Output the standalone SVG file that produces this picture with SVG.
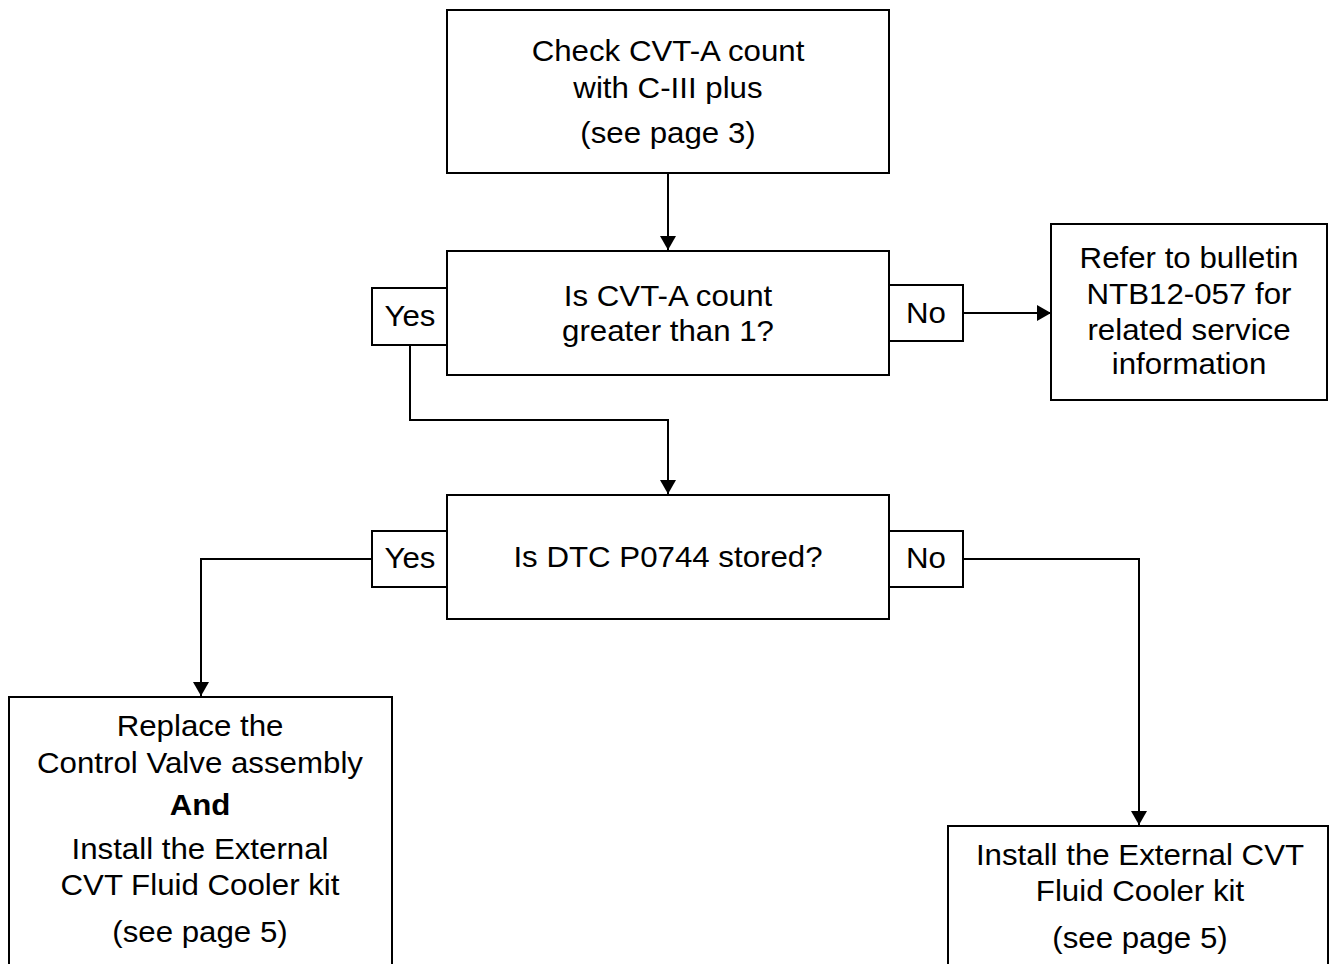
<svg xmlns="http://www.w3.org/2000/svg" width="1331" height="964" viewBox="0 0 1331 964">
<style>
.box{fill:#fff;stroke:#000;stroke-width:2}
.t{font-family:"Liberation Sans",Arial,sans-serif;font-size:29.5px;fill:#000;text-anchor:middle}
.b{font-weight:bold}
.c{fill:none;stroke:#000;stroke-width:2}
</style>
<defs>
<marker id="ah" markerWidth="14" markerHeight="16" refX="14" refY="8" orient="auto" markerUnits="userSpaceOnUse">
<path d="M0,0 L14,8 L0,16 Z" fill="#000"/>
</marker>
</defs>
<rect width="1331" height="964" fill="#fff"/>
<g id="connectors">
<line class="c" x1="668" y1="173" x2="668" y2="250" marker-end="url(#ah)"/>
<line class="c" x1="963" y1="313" x2="1051" y2="313" marker-end="url(#ah)"/>
<polyline class="c" points="410,345 410,420 668,420 668,494" marker-end="url(#ah)"/>
<polyline class="c" points="372,559 201,559 201,696" marker-end="url(#ah)"/>
<polyline class="c" points="963,559 1139,559 1139,825" marker-end="url(#ah)"/>
</g>
<g id="n1">
<rect class="box" x="447" y="10" width="442" height="163"/>
<text class="t" transform="translate(668 61) scale(1.06 1)">Check CVT-A count</text>
<text class="t" transform="translate(668 98) scale(1.06 1)">with C-III plus</text>
<text class="t" transform="translate(668 143) scale(1.06 1)">(see page 3)</text>
</g>
<g id="n2">
<rect class="box" x="447" y="251" width="442" height="124"/>
<text class="t" transform="translate(668 306) scale(1.06 1)">Is CVT-A count</text>
<text class="t" transform="translate(668 341) scale(1.06 1)">greater than 1?</text>
</g>
<g id="yes1">
<rect class="box" x="372" y="288" width="75" height="57"/>
<text class="t" transform="translate(410 326) scale(1.06 1)">Yes</text>
</g>
<g id="no1">
<rect class="box" x="889" y="285" width="74" height="56"/>
<text class="t" transform="translate(926 323) scale(1.06 1)">No</text>
</g>
<g id="n3">
<rect class="box" x="1051" y="224" width="276" height="176"/>
<text class="t" transform="translate(1189 268) scale(1.06 1)">Refer to bulletin</text>
<text class="t" transform="translate(1189 304) scale(1.06 1)">NTB12-057 for</text>
<text class="t" transform="translate(1189 340) scale(1.06 1)">related service</text>
<text class="t" transform="translate(1189 374) scale(1.06 1)">information</text>
</g>
<g id="n4">
<rect class="box" x="447" y="495" width="442" height="124"/>
<text class="t" transform="translate(668 567) scale(1.06 1)">Is DTC P0744 stored?</text>
</g>
<g id="yes2">
<rect class="box" x="372" y="531" width="75" height="56"/>
<text class="t" transform="translate(410 568) scale(1.06 1)">Yes</text>
</g>
<g id="no2">
<rect class="box" x="889" y="531" width="74" height="56"/>
<text class="t" transform="translate(926 568) scale(1.06 1)">No</text>
</g>
<g id="n5">
<rect class="box" x="9" y="697" width="383" height="280"/>
<text class="t" transform="translate(200 736) scale(1.06 1)">Replace the</text>
<text class="t" transform="translate(200 773) scale(1.06 1)">Control Valve assembly</text>
<text class="t b" transform="translate(200 815) scale(1.06 1)">And</text>
<text class="t" transform="translate(200 859) scale(1.06 1)">Install the External</text>
<text class="t" transform="translate(200 895) scale(1.06 1)">CVT Fluid Cooler kit</text>
<text class="t" transform="translate(200 942) scale(1.06 1)">(see page 5)</text>
</g>
<g id="n6">
<rect class="box" x="948" y="826" width="380" height="150"/>
<text class="t" transform="translate(1140 865) scale(1.06 1)">Install the External CVT</text>
<text class="t" transform="translate(1140 901) scale(1.06 1)">Fluid Cooler kit</text>
<text class="t" transform="translate(1140 948) scale(1.06 1)">(see page 5)</text>
</g>
</svg>
